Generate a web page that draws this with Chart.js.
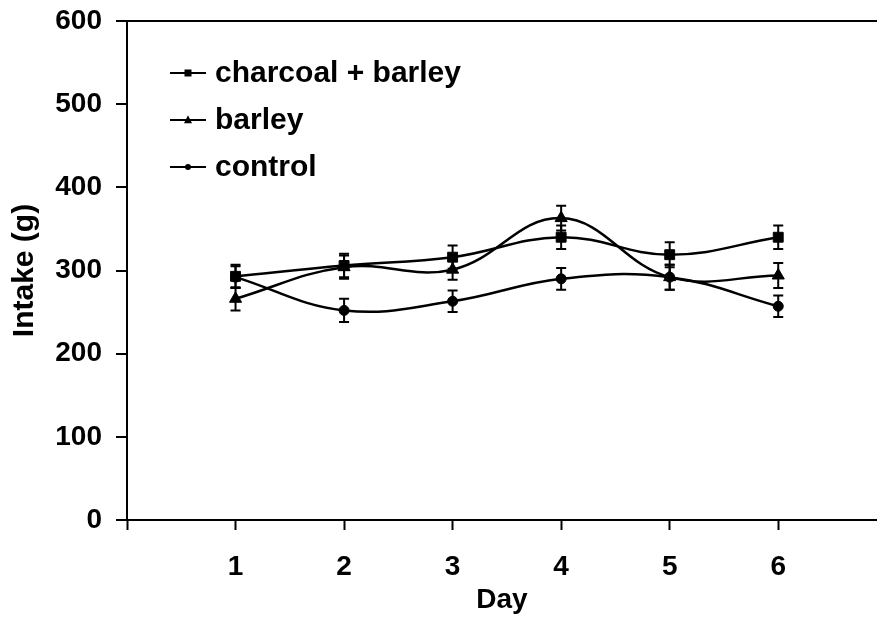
<!DOCTYPE html>
<html>
<head>
<meta charset="utf-8">
<script src="https://cdn.jsdelivr.net/npm/chart.js@4.4.1/dist/chart.umd.min.js"></script>
<style>
    body { margin: 0; background: #fff; }
</style>
</head>
<body>
<canvas id="intake-graph" width="877" height="618"></canvas>
<script>
const days = [1, 2, 3, 4, 5, 6];
const dayTicks = [0, 1, 2, 3, 4, 5, 6];
const intakeTicks = [0, 100, 200, 300, 400, 500, 600];

const charcoalBarley = [293, 306, 316, 340, 319, 340];
const charcoalBarleyErr = [14, 14, 14, 14, 15, 14];
const barley = [266, 304, 301, 363, 292, 294];
const barleyErr = [14, 14, 12, 15, 15, 15];
const control = [292, 252, 263, 290, 292, 257];
const controlErr = [13, 14, 13, 13, 15, 13];

const FONT = 'Liberation Sans, Arial, sans-serif';

function series(label, values, errors, pointStyle, radius) {
    return {
        label: label,
        data: days.map((d, i) => ({x: d, y: values[i]})),
        errors: errors,
        borderColor: '#000',
        backgroundColor: '#000',
        borderWidth: 2.5,
        pointStyle: pointStyle,
        pointRadius: radius,
        pointBorderWidth: 1,
        tension: 0.4,
        fill: false
    };
}

function drawMarker(c, style, x, y, r) {
    c.beginPath();
    if (style === 'rect') {
        c.rect(x - r, y - r, 2 * r, 2 * r);
    } else if (style === 'triangle') {
        c.moveTo(x, y - r * 1.2);
        c.lineTo(x + r, y + r * 0.8);
        c.lineTo(x - r, y + r * 0.8);
        c.closePath();
    } else {
        c.arc(x, y, r, 0, Math.PI * 2);
    }
    c.fill();
}

// vertical bars with caps, one per point, from the errors array of each dataset
const errorBars = {
    id: 'errorBars',
    beforeDatasetsDraw(chart) {
        const c = chart.ctx;
        const y = chart.scales.y;
        c.save();
        c.strokeStyle = '#000';
        c.lineWidth = 2;
        chart.data.datasets.forEach((ds, i) => {
            chart.getDatasetMeta(i).data.forEach((pt, j) => {
                const top = y.getPixelForValue(ds.data[j].y + ds.errors[j]);
                const bottom = y.getPixelForValue(ds.data[j].y - ds.errors[j]);
                c.beginPath();
                c.moveTo(pt.x, top);
                c.lineTo(pt.x, bottom);
                c.moveTo(pt.x - 5, top);
                c.lineTo(pt.x + 5, top);
                c.moveTo(pt.x - 5, bottom);
                c.lineTo(pt.x + 5, bottom);
                c.stroke();
            });
        });
        c.restore();
    }
};

// legend inside the plot, upper left
const insideLegend = {
    id: 'insideLegend',
    afterDraw(chart) {
        const c = chart.ctx;
        const area = chart.chartArea;
        const sizes = {rect: 3.5, triangle: 4, circle: 3};
        c.save();
        c.fillStyle = '#000';
        c.strokeStyle = '#000';
        c.lineWidth = 2;
        c.font = 'bold 30px ' + FONT;
        c.textBaseline = 'middle';
        chart.data.datasets.forEach((ds, i) => {
            const y = area.top + 52 + i * 47;
            const x = area.left + 43;
            c.beginPath();
            c.moveTo(x, y);
            c.lineTo(x + 36, y);
            c.stroke();
            drawMarker(c, ds.pointStyle, x + 18, y, sizes[ds.pointStyle]);
            c.fillText(ds.label, x + 45, y + 1);
        });
        c.restore();
    }
};

const ctx = document.getElementById('intake-graph');

const graph = new Chart(ctx, {
    type: 'line',
    data: {
        datasets: [
            series('charcoal + barley', charcoalBarley, charcoalBarleyErr, 'rect', 7),
            series('barley', barley, barleyErr, 'triangle', 7),
            series('control', control, controlErr, 'circle', 5)
        ]
    },
    options: {
        responsive: false,
        animation: false,
        layout: {
            autoPadding: false,
            padding: {top: 21, right: 0, bottom: 0, left: 0}
        },
        plugins: {
            legend: {display: false},
            tooltip: {enabled: false}
        },
        scales: {
            x: {
                type: 'linear',
                min: 0,
                max: 6.91,
                afterBuildTicks: scale => {
                    scale.ticks = dayTicks.map(v => ({value: v}));
                },
                afterFit: scale => {
                    scale.height = 98;
                    scale.paddingLeft = 0;
                    scale.paddingRight = 0;
                },
                border: {color: '#000', width: 2},
                grid: {
                    drawOnChartArea: false,
                    tickColor: '#000',
                    tickLength: 10,
                    tickWidth: 2
                },
                ticks: {
                    color: '#000',
                    padding: 20,
                    maxRotation: 0,
                    font: {family: FONT, size: 28, weight: 'bold'},
                    callback: v => (v === 0 ? '' : v)
                },
                title: {
                    display: true,
                    text: 'Day',
                    color: '#000',
                    padding: {top: 0, bottom: 1},
                    font: {family: FONT, size: 28, weight: 'bold'}
                }
            },
            y: {
                min: 0,
                max: 600,
                afterBuildTicks: scale => {
                    scale.ticks = intakeTicks.map(v => ({value: v}));
                },
                afterFit: scale => {
                    scale.width = 127;
                    scale.paddingTop = 0;
                    scale.paddingBottom = 0;
                },
                border: {color: '#000', width: 2},
                grid: {
                    color: c => (c.tick && c.tick.value === 600 ? '#000' : 'rgba(0,0,0,0)'),
                    lineWidth: 2,
                    tickColor: '#000',
                    tickLength: 11,
                    tickWidth: 2
                },
                ticks: {
                    color: '#000',
                    padding: 14,
                    font: {family: FONT, size: 28, weight: 'bold'}
                },
                title: {
                    display: true,
                    text: 'Intake (g)',
                    color: '#000',
                    padding: {top: 7, bottom: 0},
                    font: {family: FONT, size: 30, weight: 'bold'}
                }
            }
        }
    },
    plugins: [errorBars, insideLegend]
});
</script>
</body>
</html>
